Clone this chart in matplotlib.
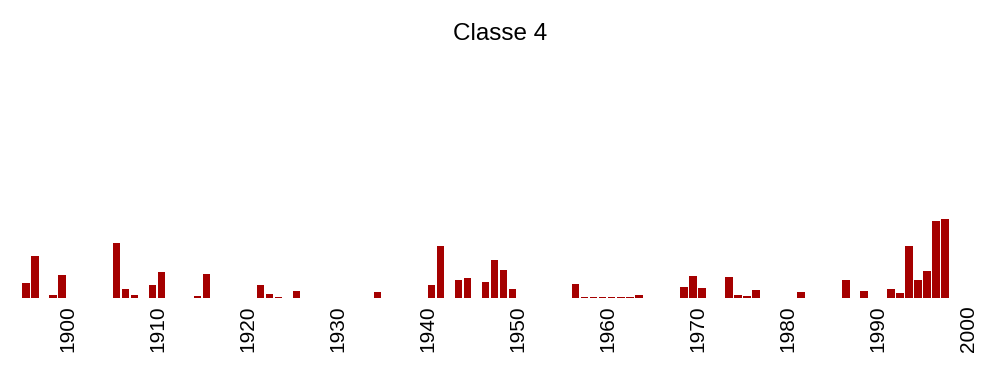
import matplotlib
matplotlib.use("Agg")
import matplotlib.pyplot as plt

plt.rcParams['font.family'] = ['Liberation Sans', 'DejaVu Sans']

# years with a value and their bar heights
years = [1895, 1896, 1897, 1898, 1899,
         1905, 1906, 1907, 1909, 1910, 1914, 1915,
         1921, 1922, 1923, 1925, 1934,
         1940, 1941, 1943, 1944, 1946, 1947, 1948, 1949,
         1956, 1957, 1958, 1959, 1960, 1961, 1962, 1963,
         1968, 1969, 1970, 1973, 1974, 1975, 1976, 1978,
         1981, 1983, 1986, 1988,
         1991, 1992, 1993, 1994, 1995, 1996, 1997]
values = [15, 42.3, 0.3, 2.7, 23,
          55, 8.7, 3.3, 13.3, 25.7, 2, 23.7,
          13.3, 4.3, 1.3, 7.3, 6.3,
          12.7, 52, 18.3, 20.3, 16, 37.7, 28.3, 8.7,
          14.3, 1.3, 1.3, 1.3, 0.7, 1.3, 1.3, 3.3,
          10.7, 21.7, 10.3, 20.7, 2.7, 1.7, 8.3, 0.3,
          6.3, 0.3, 18.3, 6.7,
          9, 5, 52, 18.3, 27.3, 77.3, 79.3]
tick_years = [1900, 1910, 1920, 1930, 1940, 1950, 1960, 1970, 1980, 1990, 2000]

fig = plt.figure(figsize=(10, 3.75), dpi=100)
ax = fig.add_axes([0.02, 0.205, 0.96, 0.65])

# bars sit in the middle of each year
x = [y + 0.4 for y in years]
ax.bar(x, values, width=0.85, color='#a50000', edgecolor='none')

ax.set_xlim(1894.7, 2001.3)
ax.set_ylim(0, 243)
ax.set_xticks(tick_years)
ax.set_xticklabels([str(t) for t in tick_years], rotation=90, fontsize=15)
ax.tick_params(axis='x', length=0, pad=5)
ax.set_yticks([])
for s in ax.spines.values():
    s.set_visible(False)

fig.text(0.5, 0.91, "Classe 4", ha='center', va='center', fontsize=17.5)

fig.savefig("out.png", dpi=100)
